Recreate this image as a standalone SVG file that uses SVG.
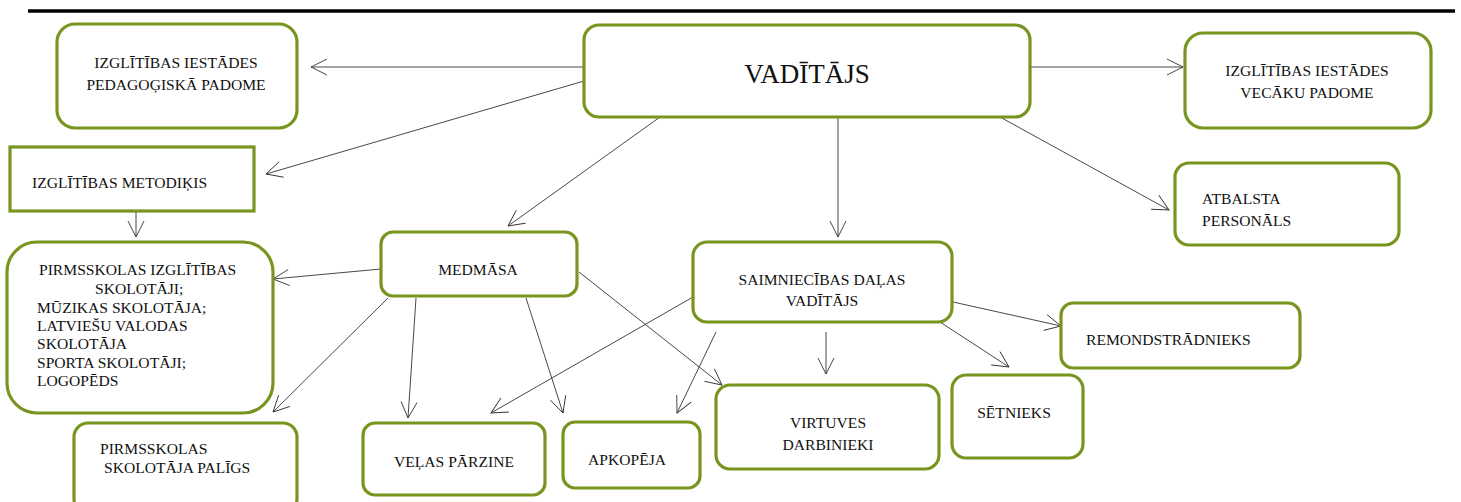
<svg xmlns="http://www.w3.org/2000/svg" width="1461" height="502" viewBox="0 0 1461 502">
<defs>
<style>
.box{fill:#fff;stroke:#77951f;stroke-width:3.2}
.t{font-family:"Liberation Serif","Times New Roman",serif;font-size:15.6px;fill:#111}
.m{text-anchor:middle}
.c{stroke:#333;stroke-width:0.9;fill:none;marker-end:url(#arr)}
</style>
<marker id="arr" viewBox="-18 -10 20 20" refX="0" refY="0" markerWidth="20" markerHeight="20" markerUnits="userSpaceOnUse" orient="auto">
<path d="M-16,-8 L0,0 L-16,8" fill="none" stroke="#333" stroke-width="0.9"/>
</marker>
</defs>
<rect x="0" y="0" width="1461" height="502" fill="#fff"/>
<line x1="28" y1="11" x2="1455" y2="11" stroke="#000" stroke-width="3.5"/>
<g id="connectors">
<line class="c" x1="584" y1="67" x2="311" y2="67"/>
<line class="c" x1="584" y1="81" x2="266" y2="174"/>
<line class="c" x1="1030" y1="67" x2="1183" y2="67"/>
<line class="c" x1="1000" y1="117" x2="1169" y2="210"/>
<line class="c" x1="660" y1="117" x2="508" y2="226"/>
<line class="c" x1="838" y1="117" x2="838" y2="237"/>
<line class="c" x1="136" y1="197" x2="136" y2="237"/>
<line class="c" x1="381" y1="269" x2="273" y2="279"/>
<line class="c" x1="388" y1="298" x2="273" y2="412"/>
<line class="c" x1="416" y1="298" x2="408" y2="418"/>
<line class="c" x1="526" y1="298" x2="563" y2="413"/>
<line class="c" x1="579" y1="272" x2="722" y2="385"/>
<line class="c" x1="693" y1="297" x2="491" y2="413"/>
<line class="c" x1="716" y1="332" x2="677" y2="413"/>
<line class="c" x1="826" y1="332" x2="826" y2="374"/>
<line class="c" x1="940" y1="322" x2="1009" y2="367"/>
<line class="c" x1="953" y1="302" x2="1061" y2="326"/>
</g>
<g id="vaditajs">
<rect class="box" x="584" y="25" width="446" height="92" rx="15"/>
<text class="t m" x="807" y="83" style="font-size:27px">VADĪTĀJS</text>
</g>
<g id="pedagogiska-padome">
<rect class="box" x="57" y="24" width="240" height="104" rx="18"/>
<text class="t m" x="176" y="68">IZGLĪTĪBAS IESTĀDES</text>
<text class="t m" x="176" y="90">PEDAGOĢISKĀ PADOME</text>
</g>
<g id="vecaku-padome">
<rect class="box" x="1185" y="33" width="246" height="95" rx="18"/>
<text class="t m" x="1307" y="76">IZGLĪTĪBAS IESTĀDES</text>
<text class="t m" x="1307" y="98">VECĀKU PADOME</text>
</g>
<g id="atbalsta-personals">
<rect class="box" x="1175" y="163" width="224" height="82" rx="14"/>
<text class="t" x="1202" y="204">ATBALSTA</text>
<text class="t" x="1202" y="226">PERSONĀLS</text>
</g>
<g id="metodikis">
<rect class="box" x="10" y="147" width="244" height="64"/>
<text class="t" x="32" y="188">IZGLĪTĪBAS METODIĶIS</text>
</g>
<g id="skolotaji">
<rect class="box" x="7" y="242" width="266" height="171" rx="30"/>
<text class="t" x="39" y="275">PIRMSSKOLAS IZGLĪTĪBAS</text>
<text class="t" x="95" y="294">SKOLOTĀJI;</text>
<text class="t" x="37" y="313">MŪZIKAS SKOLOTĀJA;</text>
<text class="t" x="37" y="331">LATVIEŠU VALODAS</text>
<text class="t" x="37" y="349">SKOLOTĀJA</text>
<text class="t" x="37" y="368">SPORTA SKOLOTĀJI;</text>
<text class="t" x="37" y="386">LOGOPĒDS</text>
</g>
<g id="medmasa">
<rect class="box" x="381" y="232" width="196" height="64" rx="12"/>
<text class="t m" x="478" y="275">MEDMĀSA</text>
</g>
<g id="saimniecibas-vaditajs">
<rect class="box" x="693" y="242" width="259" height="80" rx="14"/>
<text class="t m" x="822" y="285">SAIMNIECĪBAS DAĻAS</text>
<text class="t m" x="822" y="306">VADĪTĀJS</text>
</g>
<g id="remondstradnieks">
<rect class="box" x="1061" y="303" width="239" height="65" rx="12"/>
<text class="t" x="1086" y="345">REMONDSTRĀDNIEKS</text>
</g>
<g id="setnieks">
<rect class="box" x="952" y="375" width="131" height="83" rx="14"/>
<text class="t m" x="1014" y="418">SĒTNIEKS</text>
</g>
<g id="virtuves-darbinieki">
<rect class="box" x="716" y="385" width="223" height="84" rx="14"/>
<text class="t m" x="828" y="428">VIRTUVES</text>
<text class="t m" x="828" y="450">DARBINIEKI</text>
</g>
<g id="velas-parzine">
<rect class="box" x="363" y="423" width="182" height="72" rx="12"/>
<text class="t m" x="454" y="467">VEĻAS PĀRZINE</text>
</g>
<g id="apkopeja">
<rect class="box" x="563" y="422" width="137" height="66" rx="12"/>
<text class="t m" x="627" y="465">APKOPĒJA</text>
</g>
<g id="skolotaja-paligs">
<rect class="box" x="74" y="423" width="223" height="90" rx="14"/>
<text class="t" x="100" y="454">PIRMSSKOLAS</text>
<text class="t" x="104" y="473">SKOLOTĀJA PALĪGS</text>
</g>
</svg>
